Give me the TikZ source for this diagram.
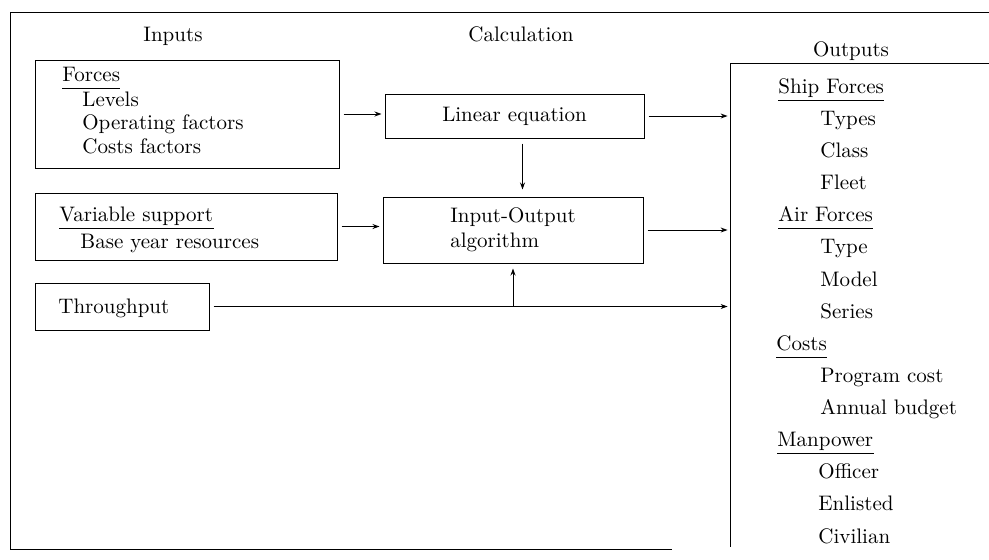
\documentclass[tikz,border=0pt]{standalone}
\usepackage{tikz}
\usetikzlibrary{arrows.meta,positioning,calc}

\begin{document}
\begin{tikzpicture}[
  x=0.5pt, y=-0.5pt,
  every node/.style={font=\fontsize{10.5}{12.6}\selectfont},
  box/.style={draw, rectangle, inner sep=0pt, line width=0.5pt},
  txt/.style={anchor=base west, inner sep=0pt},
  hd/.style={anchor=base, inner sep=0pt},
  arr/.style={-{Stealth[length=3.5pt,width=2.5pt]}, line width=0.5pt, shorten <=2pt, shorten >=1.5pt},
  rule/.style={line width=0.5pt}
]
\useasboundingbox (0,0) rectangle (989,559);

% frame
\draw[rule] (989,12) -- (10,12) -- (10,549) -- (672,549);

% column heads
\node[hd] (hin) at (173,41) {Inputs};
\node[hd] (hcalc) at (521,41) {Calculation};
\node[hd] (hout) at (851,56) {Outputs};

% inputs
\node[box, minimum width=152pt, minimum height=54pt] (forces) at (187,114) {};
\node[txt] (fo) at (62,81) {Forces};
\node[txt] (lv) at (82,106) {Levels};
\node[txt] (of) at (82,129) {Operating factors};
\node[txt] (cf) at (82,153) {Costs factors};

\node[box, minimum width=151pt, minimum height=33.5pt] (varsup) at (186,226.5) {};
\node[txt] (vs) at (59,221) {Variable support};
\node[txt] (by) at (80,248) {Base year resources};

\node[box, minimum width=87pt, minimum height=23.5pt] (thru) at (122,306.5) {};
\node[txt] (tp) at (58,313) {Throughput};

% calculation
\node[box, minimum width=129.5pt, minimum height=22pt] (lineq) at (514.5,116) {Linear equation};
\node[box, minimum width=130pt, minimum height=33pt, align=left] (inout) at (513,230) {Input-Output\\algorithm};

% outputs
\node[minimum width=129pt, minimum height=241.5pt, inner sep=0pt] (outbox) at (860,305.5) {};
\draw[rule] (outbox.north east) -- (outbox.north west) -- (outbox.south west);

\node[txt] (sf) at (778,93) {Ship Forces};
\node[txt] (o1) at (820,125) {Types};
\node[txt] (o2) at (820,157) {Class};
\node[txt] (o3) at (820,189) {Fleet};
\node[txt] (af) at (778,221) {Air Forces};
\node[txt] (o4) at (820,253) {Type};
\node[txt] (o5) at (820,286) {Model};
\node[txt] (o6) at (820,318) {Series};
\node[txt] (co) at (776,350) {Costs};
\node[txt] (o7) at (820,382) {Program cost};
\node[txt] (o8) at (820,414) {Annual budget};
\node[txt] (mp) at (777,446) {Manpower};
\node[txt] (o9) at (818,478) {Officer};
\node[txt] (o10) at (818,510) {Enlisted};
\node[txt] (o11) at (818,543) {Civilian};

% underlines
\draw[rule] ([yshift=-3.5pt]fo.base west) -- ([yshift=-3.5pt]fo.base east);
\draw[rule] ([yshift=-3.5pt]vs.base west) -- ([yshift=-3.5pt]vs.base east);
\draw[rule] ([yshift=-3.5pt]sf.base west) -- ([yshift=-3.5pt]sf.base east);
\draw[rule] ([yshift=-3.5pt]af.base west) -- ([yshift=-3.5pt]af.base east);
\draw[rule] ([yshift=-3.5pt]co.base west) -- ([yshift=-3.5pt]co.base east);
\draw[rule] ([yshift=-3.5pt]mp.base west) -- ([yshift=-3.5pt]mp.base east);

% flows
\draw[arr] (forces.east) -- (forces.east -| lineq.west);
\draw[arr] (varsup.east) -- (varsup.east -| inout.west);
\draw[arr] (lineq.east) -- (lineq.east -| outbox.west);
\draw[arr] (inout.east) -- (inout.east -| outbox.west);
\draw[arr] (thru.east) -- (thru.east -| outbox.west);
\draw[arr, shorten >=3.5pt, shorten <=2.5pt] ([xshift=4pt]lineq.south) -- ([xshift=4pt]lineq.south |- inout.north);
\draw[arr, shorten <=0pt, shorten >=2.5pt] (inout.south |- thru.east) -- (inout.south);
\end{tikzpicture}
\end{document}
